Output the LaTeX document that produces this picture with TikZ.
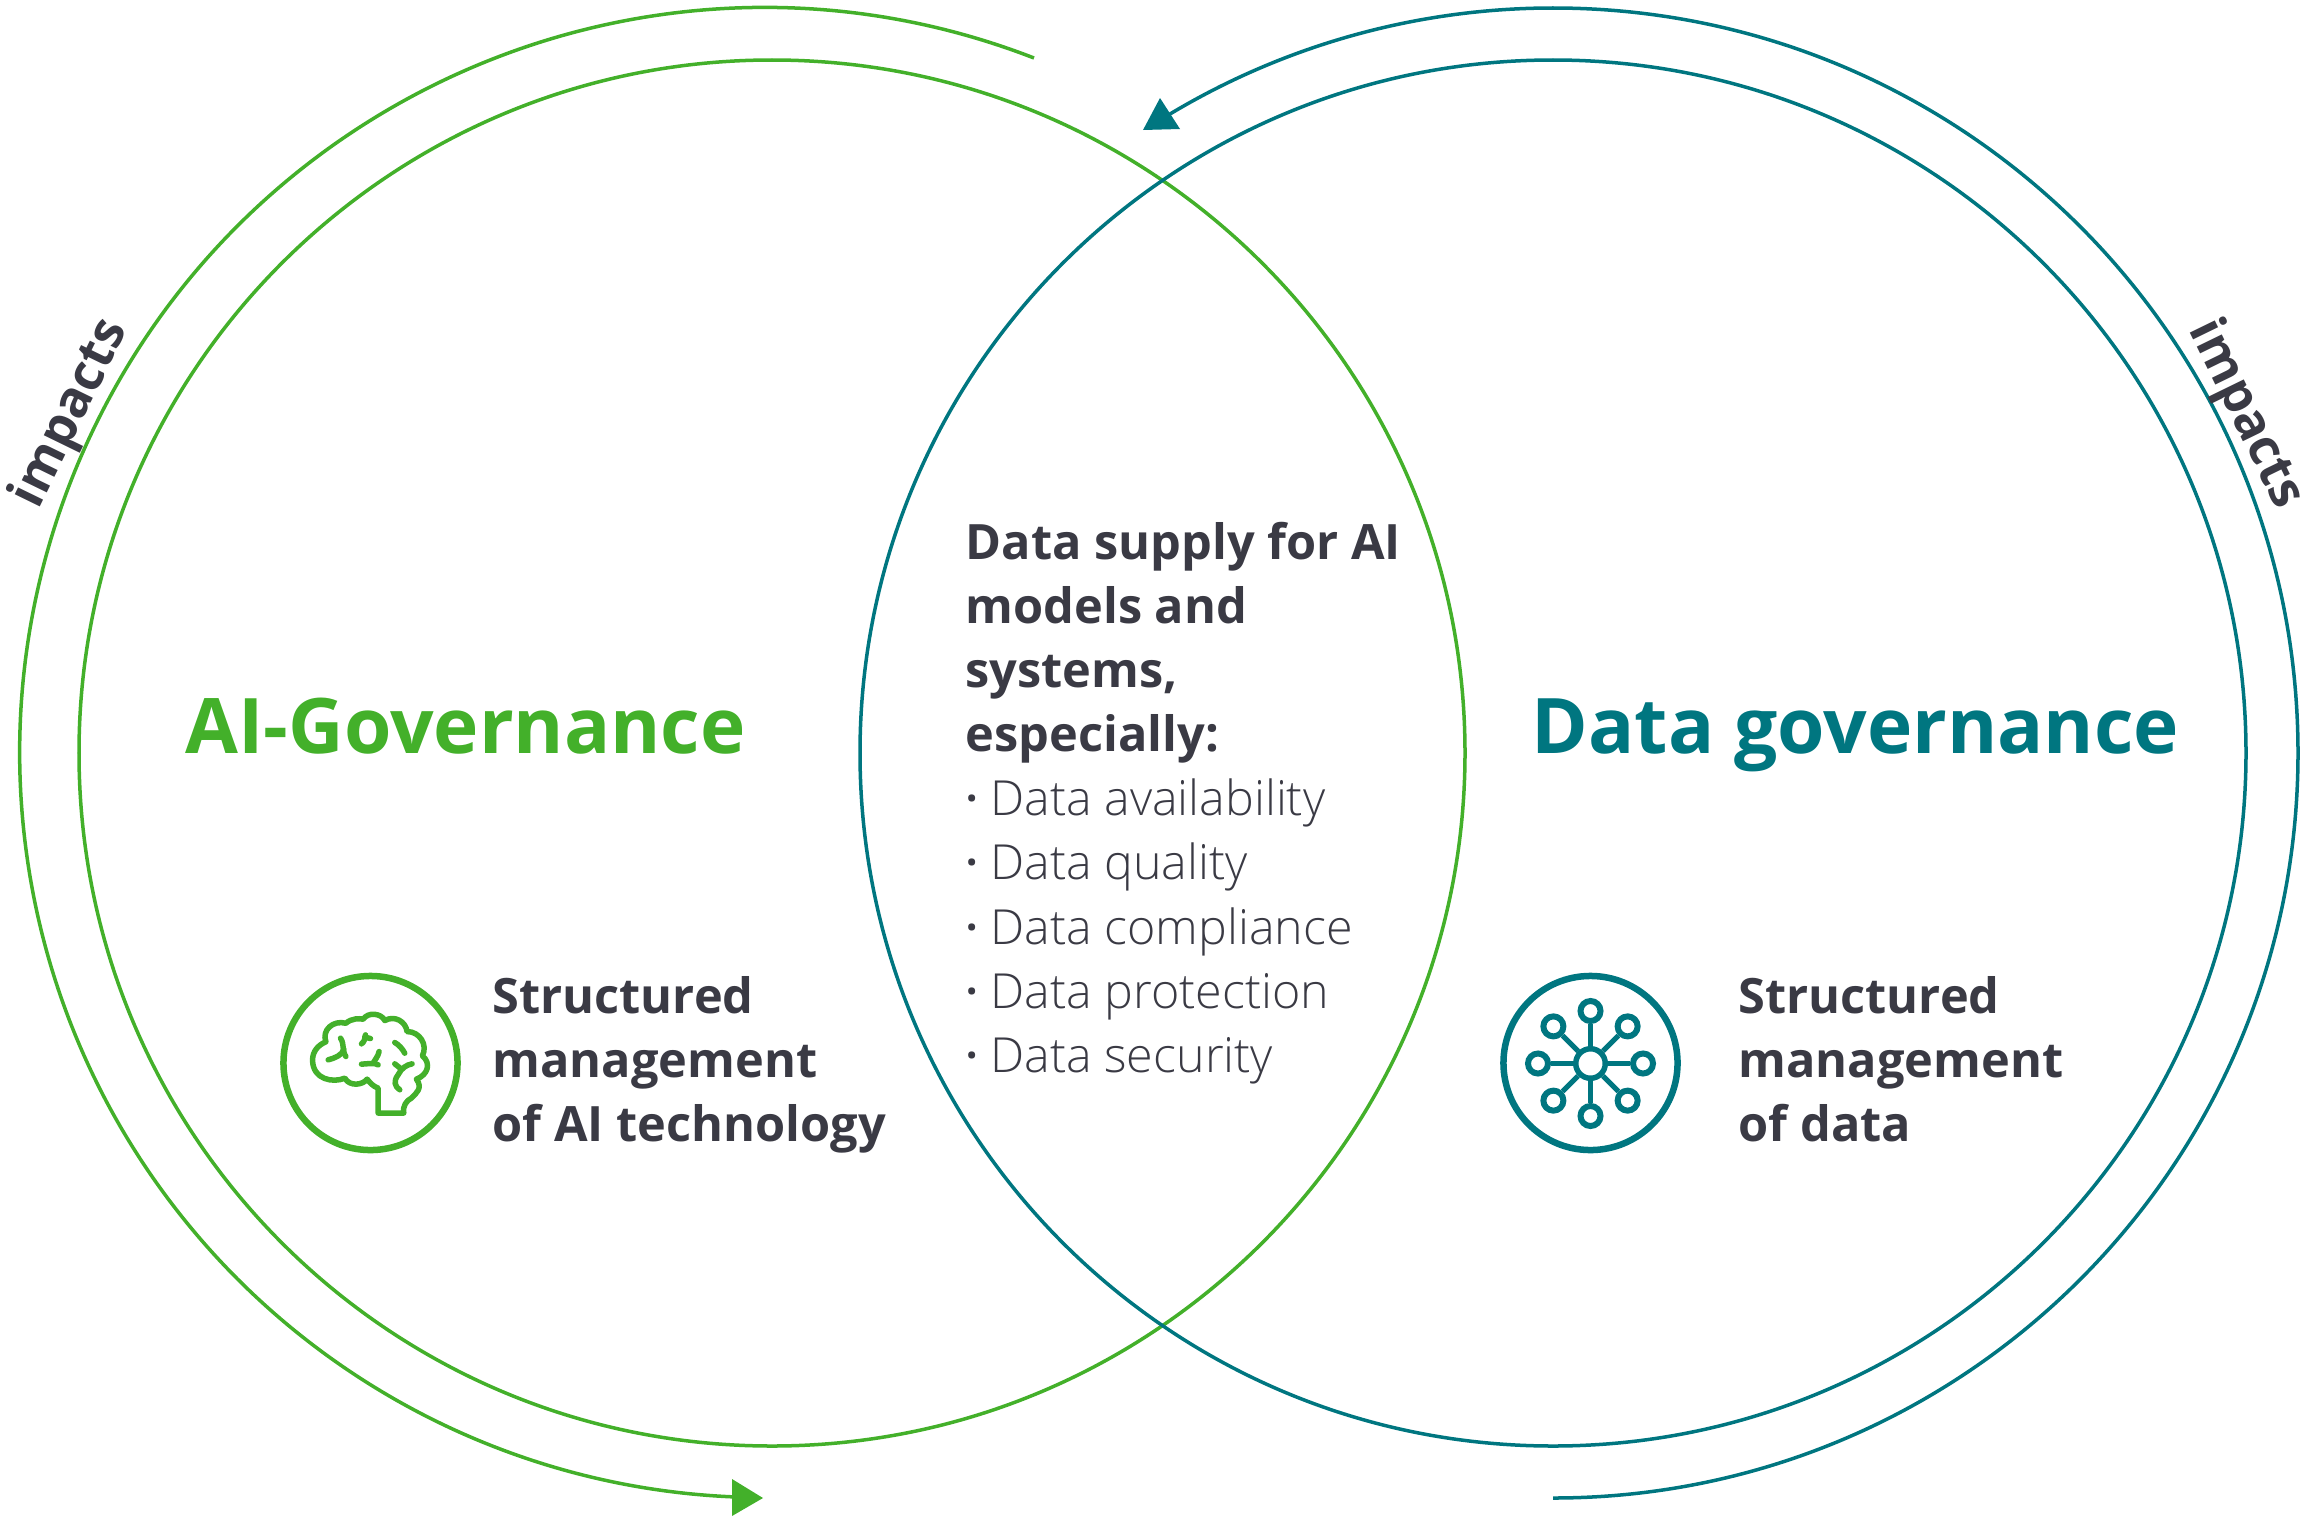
\documentclass[tikz,border=0pt]{standalone}
\usepackage{fontspec}
\setmainfont{Open Sans}
\newfontfamily\lightfont{Open Sans Light}
\definecolor{aigreen}{HTML}{43B02A}
\definecolor{datateal}{HTML}{007680}
\definecolor{bodygrey}{HTML}{3A3A44}
\newcommand{\dotitem}[1]{{\lightfont\mdseries\fontsize{13.75}{18.2}\selectfont\makebox[7.0pt][l]{\bfseries ·}#1}}
\tikzset{
  x=0.01cm, y=-0.01cm,
  ring/.style={line width=0.035cm},
  title/.style={font=\bfseries\fontsize{21.8}{22}\selectfont, anchor=base west, inner sep=0pt},
  body/.style={font=\bfseries\fontsize{13.85}{18.2}\selectfont, text=bodygrey, align=left, anchor=north west, inner sep=0pt},
  iconring/.style={circle, draw, line width=0.065cm, minimum size=1.74cm, inner sep=0pt},
  hubdot/.style={circle, draw=datateal, line width=0.055cm, fill=white, minimum size=0.295cm, inner sep=0pt},
  satdot/.style={circle, draw=datateal, line width=0.06cm, fill=white, minimum size=0.2cm, inner sep=0pt},
  brainline/.style={draw=aigreen, line width=0.055cm, line cap=round, line join=round},
  arclabel/.style={font=\bfseries\fontsize{14.5}{15}\selectfont, text=bodygrey, anchor=base, inner sep=0pt}
}
\begin{document}
\begin{tikzpicture}
\useasboundingbox (0,0) rectangle (2306,1518);
% circles
\draw[ring, aigreen] (772,753) circle (693);
\draw[ring, datateal] (1553,753) circle (693);
% outer arcs
\draw[ring, aigreen] (1034,58) arc[start angle=-68.8, end angle=-267.5, radius=745];
\draw[ring, datateal] (1553,1498) arc[start angle=90, end angle=-121, radius=745];
% arrow heads
\fill[aigreen] (732,1479) -- (763,1498) -- (732,1516) -- cycle;
\fill[datateal] (1160,98) -- (1180,129) -- (1143,130) -- cycle;
% labels
\node[title, text=aigreen] (aititle) at (185,753) {AI-Governance};
\node[title, text=datateal] (datatitle) at (1531,753) {Data governance};
\node[arclabel, rotate=64] (impactsl) at (83,420) {impacts};
\node[arclabel, rotate=-64] (impactsr) at (2233,420) {impacts};
\node[body] (aitext) at (492,975.5) {Structured\\management\\of AI technology};
\node[body] (datatext) at (1738,975.5) {Structured\\management\\of data};
\node[body] (midtext) at (965,522) {Data supply for AI\\models and\\systems,\\especially:\\
  \dotitem{Data availability}\\
  \dotitem{Data quality}\\
  \dotitem{Data compliance}\\
  \dotitem{Data protection}\\
  \dotitem{Data security}};
% brain icon
\node[iconring, draw=aigreen] (brainring) at (370.5,1063) {};
\begin{scope}[shift={(250,950)}, x=0.00333cm, y=-0.00333cm]
\draw[brainline] (385,490) -- (385,415) .. controls (370,410) and (360,398) .. (352,388)
  .. controls (340,405) and (300,412) .. (285,385) .. controls (250,400) and (188,390) .. (188,330)
  .. controls (188,305) and (205,285) .. (228,276) .. controls (215,240) and (250,210) .. (288,220)
  .. controls (305,205) and (330,205) .. (340,208) .. controls (355,185) and (395,190) .. (405,212)
  .. controls (435,195) and (468,215) .. (472,245) .. controls (510,245) and (535,285) .. (518,318)
  .. controls (545,340) and (535,375) .. (500,388) .. controls (520,415) and (500,430) .. (485,445)
  .. controls (470,452) and (458,470) .. (462,490) -- cycle;
\draw[brainline] (272,265) .. controls (285,285) and (275,300) .. (288,320);
\draw[brainline] (282,298) .. controls (278,315) and (255,325) .. (235,330);
\draw[brainline] (335,282) .. controls (345,275) and (345,265) .. (347,255);
\draw[brainline] (345,262) -- (362,266);
\draw[brainline] (335,343) .. controls (355,342) and (375,338) .. (385,345);
\draw[brainline] (388,305) .. controls (385,320) and (375,330) .. (370,340);
\draw[brainline] (435,278) .. controls (448,285) and (458,297) .. (465,310);
\draw[brainline] (487,342) .. controls (470,345) and (455,355) .. (445,375) .. controls (430,395) and (435,410) .. (450,420);
\draw[brainline] (435,342) -- (455,358);
\end{scope}
% network icon
\node[iconring, draw=datateal] (netring) at (1590.5,1063) {};
\node[hubdot] (hub) at (1590.5,1063.5) {};
\foreach \a in {0,45,...,315} {
  \node[satdot] (sat\a) at ([shift={(\a:52.5)}]hub.center) {};
  \draw[datateal, line width=0.05cm] (hub) -- (sat\a);
}
\end{tikzpicture}
\end{document}
